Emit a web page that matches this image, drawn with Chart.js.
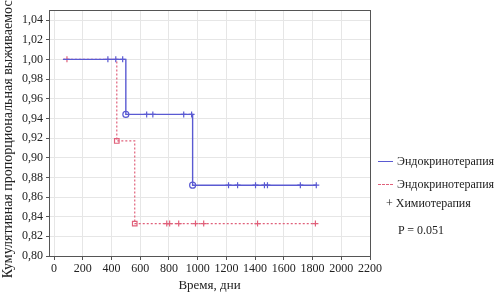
<!DOCTYPE html>
<html>
<head>
<meta charset="utf-8">
<script src="https://cdn.jsdelivr.net/npm/chart.js@4/dist/chart.umd.min.js"></script>
<style>
html,body{margin:0;padding:0;background:#fff;}
#wrap{position:relative;width:501px;height:293px;}
canvas{position:absolute;left:0;top:0;}
.lg{position:absolute;font-family:"Liberation Serif",serif;font-size:12px;color:#222;white-space:nowrap;line-height:12px;}
.sw{position:absolute;height:0;width:15px;}
</style>
</head>
<body>
<div id="wrap">
<canvas id="c" width="501" height="293"></canvas>
<div class="sw" style="left:378px;top:161px;border-top:1px solid #5a5ad2;"></div>
<div class="lg" style="left:397px;top:155px;">Эндокринотерапия</div>
<div class="sw" style="left:378px;top:184px;border-top:1px dashed #e0607a;"></div>
<div class="lg" style="left:397px;top:178px;">Эндокринотерапия</div>
<div class="lg" style="left:386px;top:197px;">+ Химиотерапия</div>
<div class="lg" style="left:398px;top:224px;">P = 0.051</div>
</div>
<script>
// X axis tick values (days) and Y axis tick values
const xTicks = [0, 200, 400, 600, 800, 1000, 1200, 1400, 1600, 1800, 2000, 2200];
const yTicks = [0.80, 0.82, 0.84, 0.86, 0.88, 0.90, 0.92, 0.94, 0.96, 0.98, 1.00, 1.02, 1.04];

// Эндокринотерапия — step curve
const endoDays = [62, 500, 965, 1826];
const endoSurv = [1.000, 0.944, 0.872, 0.872];
// events (open circles)
const endoEventDays = [500, 965];
const endoEventSurv = [0.944, 0.872];
// censored (+)
const endoCensDays = [375, 430, 478, 645, 688, 903, 958, 1215, 1278, 1403, 1465, 1486, 1715, 1826];
const endoCensSurv = [1.000, 1.000, 1.000, 0.944, 0.944, 0.944, 0.944, 0.872, 0.872, 0.872, 0.872, 0.872, 0.872, 0.872];

// Эндокринотерапия + Химиотерапия — step curve
const chemoDays = [62, 437, 562, 1820];
const chemoSurv = [1.000, 0.917, 0.833, 0.833];
const chemoEventDays = [437, 562];
const chemoEventSurv = [0.917, 0.833];
const chemoCensDays = [90, 785, 805, 868, 985, 1042, 1417, 1820];
const chemoCensSurv = [1.000, 0.833, 0.833, 0.833, 0.833, 0.833, 0.833, 0.833];

const BLUE = '#5a5ad2';
const RED = '#e0607a';
const FONT = '"Liberation Serif", serif';

const pts = (xs, ys) => xs.map((x, i) => ({x: x, y: ys[i]}));

const borderPlugin = {
  id: 'borderBox',
  beforeDatasetsDraw(chart) {
    const a = chart.chartArea, ctx = chart.ctx;
    ctx.save();
    ctx.strokeStyle = '#555';
    ctx.lineWidth = 1;
    ctx.strokeRect(Math.round(a.left) + 0.5, Math.round(a.top) + 0.5, Math.round(a.right - a.left), Math.round(a.bottom - a.top));
    ctx.restore();
  }
};

new Chart(document.getElementById('c'), {
  type: 'line',
  data: {
    datasets: [
      {data: pts(endoDays, endoSurv), borderColor: BLUE, borderWidth: 1.4, stepped: 'before', pointRadius: 0, fill: false},
      {data: pts(chemoDays, chemoSurv), borderColor: RED, borderWidth: 1.2, borderDash: [2, 2], stepped: 'before', pointRadius: 0, fill: false},
      {data: pts(endoEventDays, endoEventSurv), showLine: false, pointStyle: 'circle', pointRadius: 3, borderColor: BLUE, backgroundColor: 'rgba(255,255,255,0)', pointBorderWidth: 1.2},
      {data: pts(chemoEventDays, chemoEventSurv), showLine: false, pointStyle: 'rect', pointRadius: 3.2, borderColor: RED, backgroundColor: 'rgba(255,255,255,0)', pointBorderWidth: 1.2},
      {data: pts(endoCensDays, endoCensSurv), showLine: false, pointStyle: 'cross', pointRadius: 3, borderColor: BLUE, pointBorderWidth: 1.2},
      {data: pts(chemoCensDays, chemoCensSurv), showLine: false, pointStyle: 'cross', pointRadius: 3, borderColor: RED, pointBorderWidth: 1.2}
    ]
  },
  options: {
    responsive: false,
    animation: false,
    events: [],
    layout: {padding: {top: 8, right: 131, left: 0, bottom: 0}},
    plugins: {legend: {display: false}, tooltip: {enabled: false}},
    scales: {
      x: {
        type: 'linear', min: -35, max: 2200,
        afterBuildTicks: s => { s.ticks = xTicks.map(v => ({value: v})); },
        afterFit: s => { s.height = 37; },
        ticks: {font: {family: FONT, size: 12}, color: '#222', padding: 2, maxRotation: 0, autoSkip: false, callback: v => String(v)},
        grid: {color: '#e6e6e6', tickColor: '#555', tickLength: 4},
        border: {color: '#555'},
        title: {display: true, text: 'Время, дни', font: {family: FONT, size: 13}, color: '#222', padding: {top: 0, bottom: 0}}
      },
      y: {
        type: 'linear', min: 0.80, max: 1.05,
        afterBuildTicks: s => { s.ticks = yTicks.map(v => ({value: v})); },
        afterFit: s => { s.width = 49; },
        ticks: {font: {family: FONT, size: 12}, color: '#222', padding: 3, callback: v => v.toFixed(2).replace('.', ',')},
        grid: {color: '#e6e6e6', tickColor: '#555', tickLength: 3},
        border: {color: '#555'},
        title: {display: true, text: 'Кумулятивная пропорциональная выживаемость', font: {family: FONT, size: 14}, color: '#222', padding: {top: 0, bottom: 0}}
      }
    }
  },
  plugins: [borderPlugin]
});
</script>
</body>
</html>
